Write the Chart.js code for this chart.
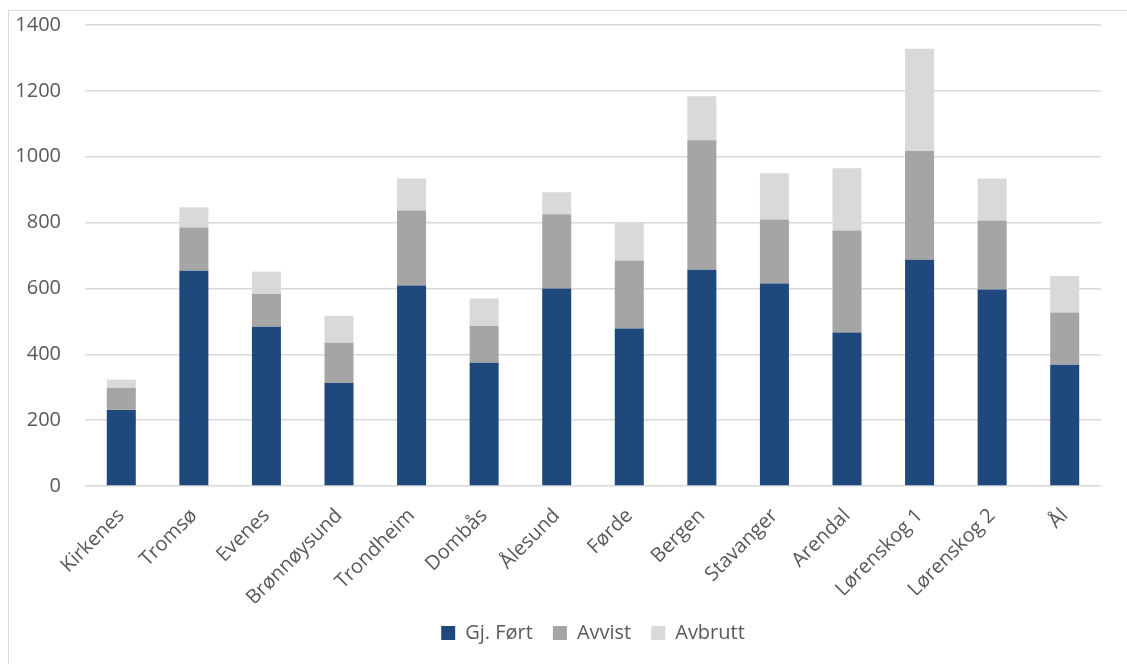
<!DOCTYPE html>
<html>
<head>
<meta charset="utf-8">
<script src="https://cdn.jsdelivr.net/npm/chart.js@4"></script>
<style>
  html, body { margin: 0; padding: 0; background: #fff; }
  #ramme { position: absolute; left: 8px; top: 10px; width: 1200px; height: 700px;
           border-left: 1.5px solid #d9d9d9; border-top: 1.5px solid #d9d9d9; }
  #wrap { position: absolute; left: 0; top: 0; width: 1127px; height: 664px; }
</style>
</head>
<body>
<div id="ramme"></div>
<div id="wrap"><canvas id="graf"></canvas></div>
<script>
// Data lest av bildet
const steder = ['Kirkenes', 'Tromsø', 'Evenes', 'Brønnøysund', 'Trondheim', 'Dombås', 'Ålesund', 'Førde', 'Bergen', 'Stavanger', 'Arendal', 'Lørenskog 1', 'Lørenskog 2', 'Ål'];
const gjFort = [231, 654, 484, 313, 609, 374, 600, 478, 657, 615, 466, 687, 597, 368];
const avvist = [67, 131, 100, 122, 228, 113, 225, 207, 393, 194, 310, 330, 209, 159];
const avbrutt = [25, 61, 67, 82, 97, 82, 67, 115, 134, 141, 189, 311, 128, 111];

const tekstFarge = '#595959';
const font = '"Open Sans", sans-serif';

new Chart(document.getElementById('graf'), {
  type: 'bar',
  data: {
    labels: steder,
    datasets: [
      { label: 'Gj. Ført', data: gjFort, backgroundColor: '#1f497d' },
      { label: 'Avvist', data: avvist, backgroundColor: '#a5a5a5' },
      { label: 'Avbrutt', data: avbrutt, backgroundColor: '#d9d9d9' }
    ]
  },
  options: {
    responsive: true,
    maintainAspectRatio: false,
    animation: false,
    layout: { padding: { left: 0, right: 26, top: 25, bottom: 11 } },
    datasets: { bar: { categoryPercentage: 1, barPercentage: 0.4, borderWidth: 0 } },
    scales: {
      x: {
        stacked: true,
        grid: { display: false },
        border: { display: false },
        ticks: {
          color: tekstFarge,
          font: { family: font, size: 20 },
          maxRotation: 45, minRotation: 45,
          padding: 10
        },
        afterFit: function (scale) {
          scale.height = 117;
          scale.paddingTop = 0;
          scale.paddingBottom = 0;
        }
      },
      y: {
        stacked: true,
        min: 0, max: 1400,
        border: { display: false },
        grid: { color: '#d9d9d9', lineWidth: 1.5, drawTicks: false },
        ticks: {
          stepSize: 200,
          color: tekstFarge,
          font: { family: font, size: 20 },
          padding: 24,
          callback: function (v) { return String(v); }
        },
        afterFit: function (scale) {
          scale.width = 85;
          scale.paddingTop = 0;
          scale.paddingBottom = 0;
        }
      }
    },
    plugins: {
      legend: {
        position: 'bottom',
        fullSize: false, // sentrert under plottet
        labels: {
          color: tekstFarge,
          font: { family: font, size: 20 },
          boxWidth: 14, boxHeight: 14,
          padding: 20
        }
      },
      tooltip: { enabled: false }
    }
  }
});
</script>
</body>
</html>
